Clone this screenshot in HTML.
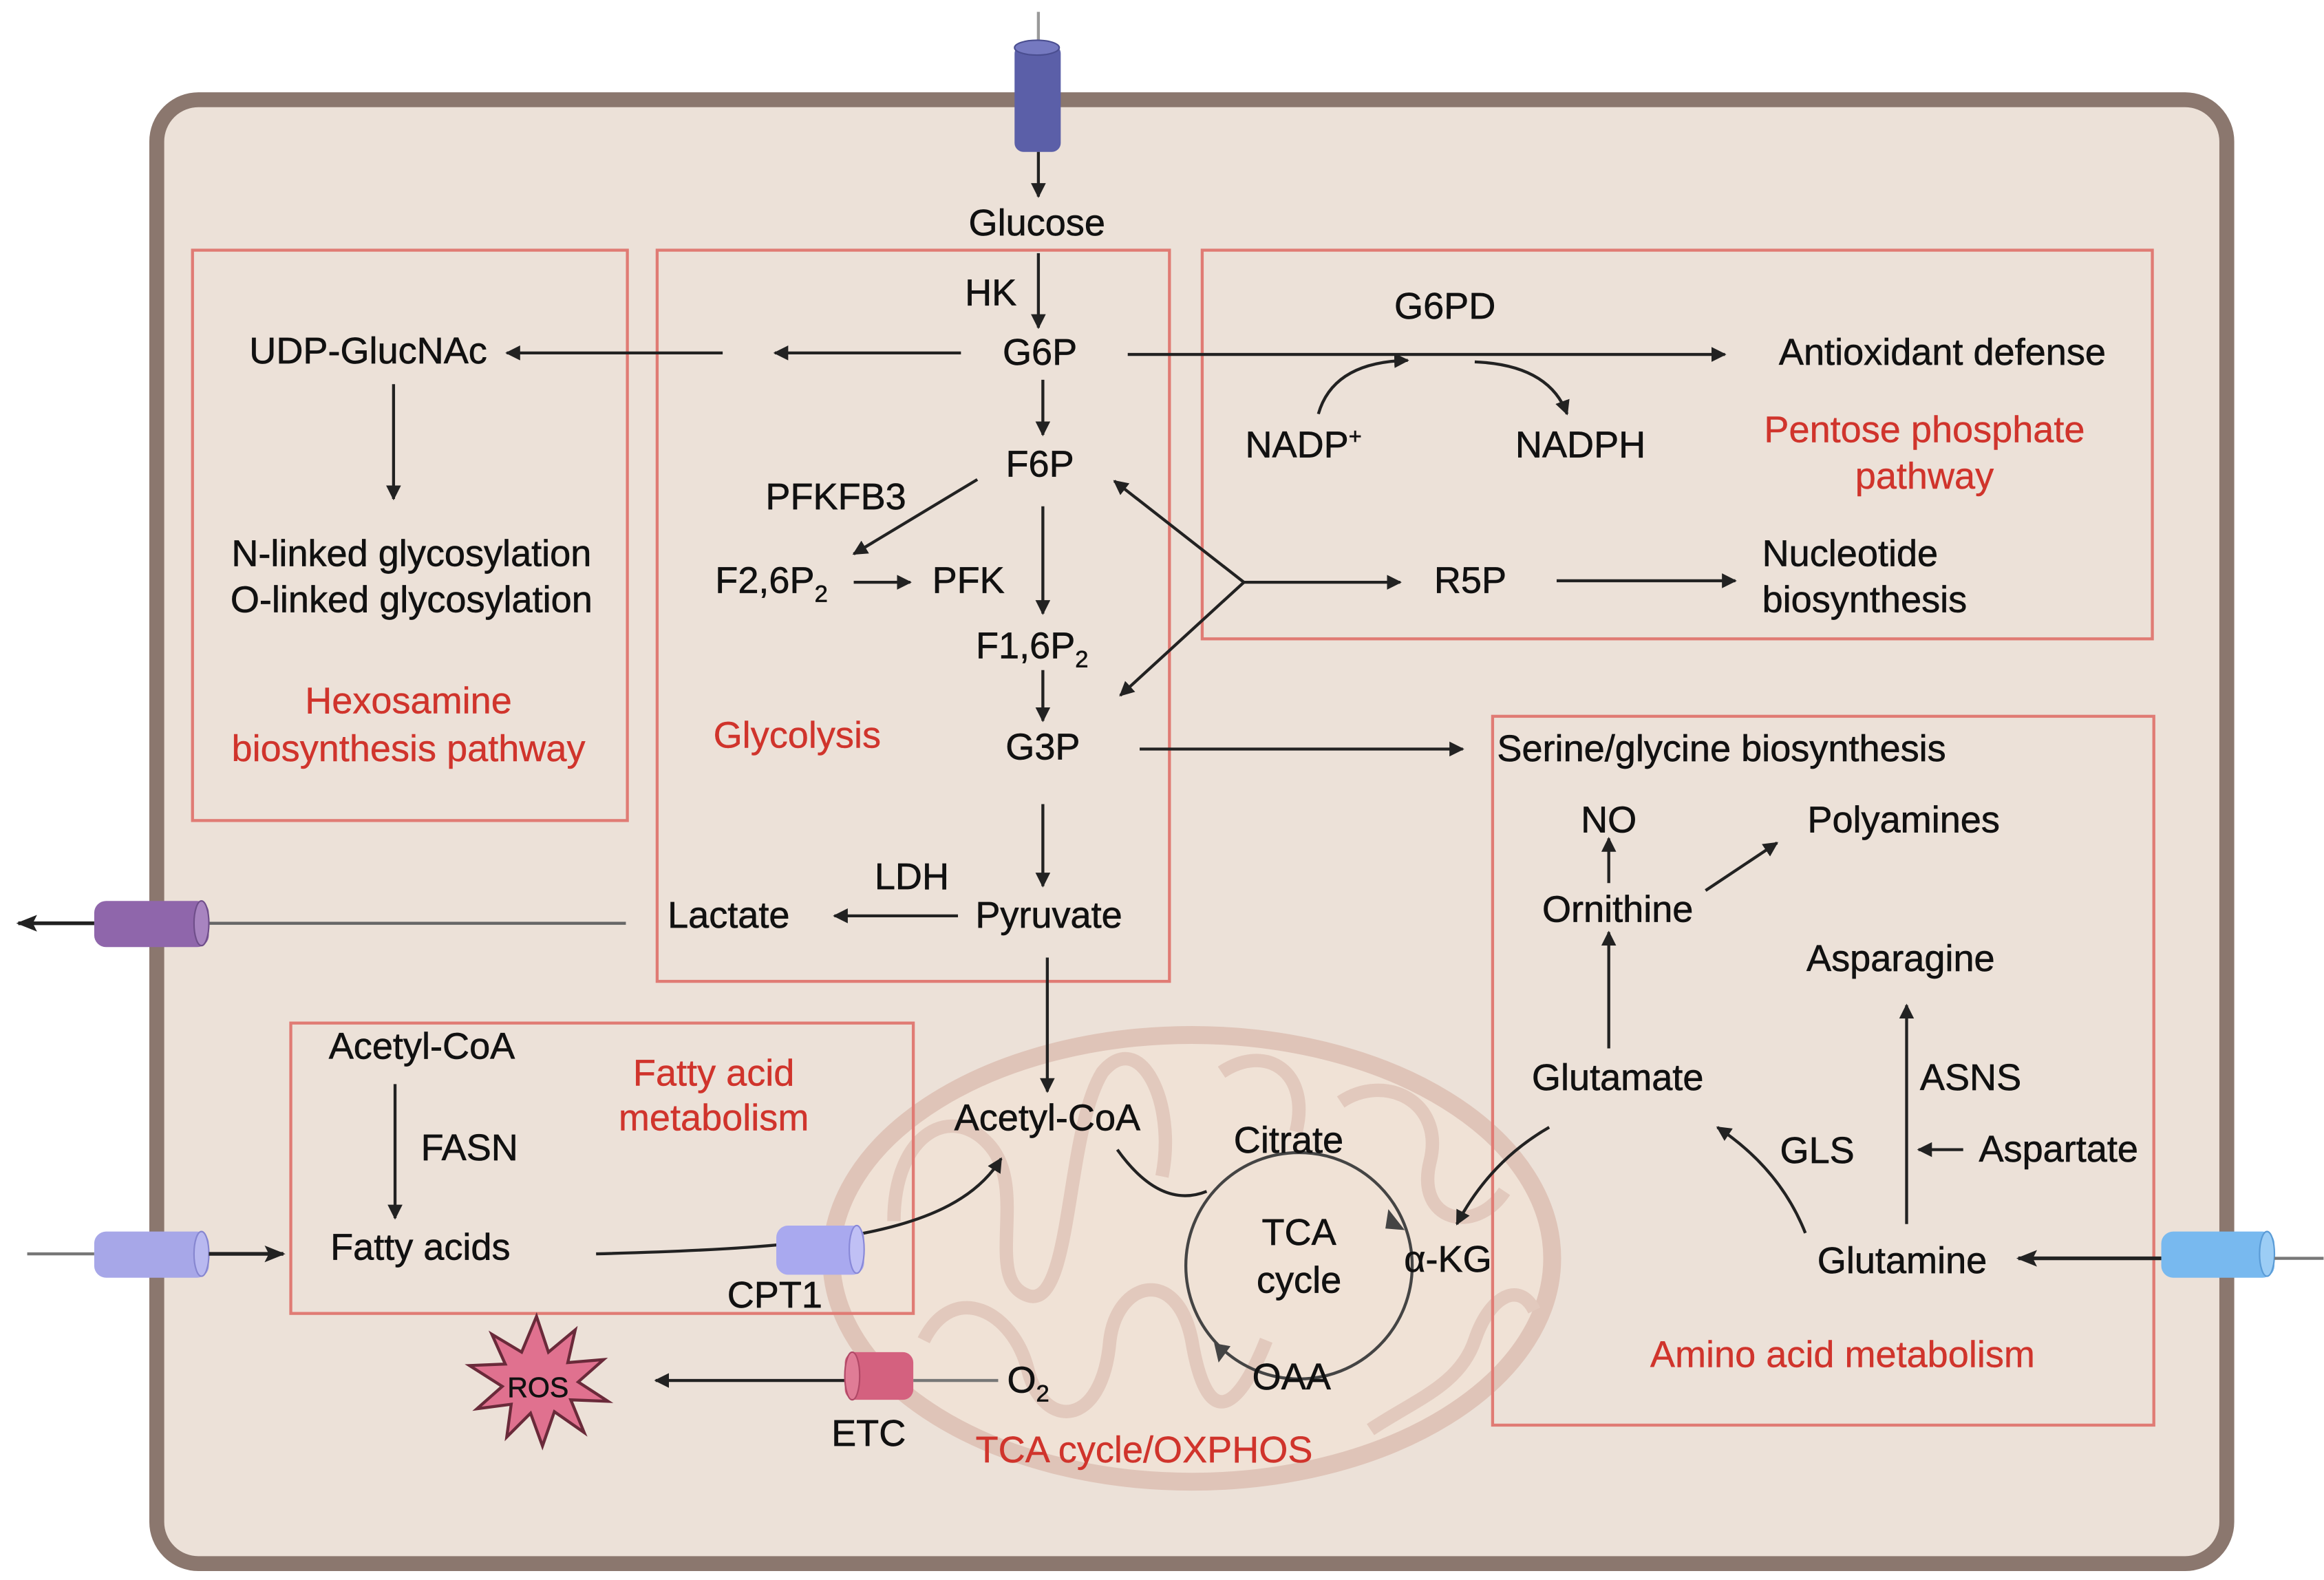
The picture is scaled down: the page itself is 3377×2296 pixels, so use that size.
<!DOCTYPE html>
<html><head><meta charset="utf-8"><style>
html,body{margin:0;padding:0;background:#fff;}
svg{display:block;}
text{font-family:"Liberation Sans",sans-serif;font-size:25px;fill:#111;stroke:#111;stroke-width:0.3px;}
.r{fill:#d0342c;stroke:#d0342c;stroke-width:0.2px;}
.c{text-anchor:middle;}
</style></head><body>
<svg width="3377" height="2296" viewBox="0 0 1560 1061" xmlns="http://www.w3.org/2000/svg">
<defs>
<marker id="a" viewBox="0 0 10 10" refX="9" refY="5" markerWidth="10" markerHeight="10" markerUnits="userSpaceOnUse" orient="auto"><path d="M0,0 L10,5 L0,10 z" fill="#222"/></marker>
<marker id="b" viewBox="0 0 10 10" refX="9" refY="5" markerWidth="14" markerHeight="14" markerUnits="userSpaceOnUse" orient="auto"><path d="M0,1 L10,5 L0,9 L2,5 z" fill="#222"/></marker>
</defs>
<rect width="1560" height="1061" fill="#fff"/>
<rect x="105" y="67" width="1390" height="983" rx="28" fill="#ece1d8" stroke="#8b776e" stroke-width="10"/>
<!-- mitochondrion -->
<ellipse cx="800" cy="845" rx="242" ry="150" fill="#f0e2d6" stroke="#dfc4b8" stroke-width="12"/>
<g fill="none" stroke="#e2c9bd" stroke-width="9">
<path d="M600,820 C600,760 640,740 665,770 C690,800 660,860 690,870 C720,880 715,760 740,720 C765,690 790,740 780,790"/>
<path d="M620,900 C640,860 680,880 690,920 C700,960 740,960 745,900 C750,860 790,850 800,900 C810,960 830,950 850,900"/>
<path d="M820,720 C850,700 880,720 870,760 M900,740 C930,720 970,740 960,780 C950,820 990,830 1010,800"/>
<path d="M920,960 C950,940 980,930 990,900 C1000,870 1020,860 1030,880"/>
</g>
<!-- boxes -->
<g fill="none" stroke="#e07b74" stroke-width="2">
<rect x="129" y="168" width="292" height="383"/>
<rect x="441" y="168" width="344" height="491"/>
<rect x="807" y="168" width="638" height="261"/>
<rect x="1002" y="481" width="444" height="476"/>
<rect x="195" y="687" width="418" height="195"/>
</g>
<!-- transporters -->
<line x1="697" y1="8" x2="697" y2="30" stroke="#999" stroke-width="2"/>
<rect x="681" y="30" width="31" height="72" rx="6" fill="#5b5fa8"/><ellipse cx="696" cy="32" rx="15" ry="5" fill="#7579c0" stroke="#4a4e90"/>
<line x1="140" y1="620" x2="420" y2="620" stroke="#666" stroke-width="2"/>
<rect x="63" y="605" width="77" height="31" rx="8" fill="#8f66ab"/><ellipse cx="135" cy="620" rx="5" ry="15" fill="#a884c0" stroke="#6f4e8a"/>
<line x1="63" y1="620" x2="12" y2="620" stroke="#222" stroke-width="2.5" marker-end="url(#b)"/>
<line x1="18" y1="842" x2="63" y2="842" stroke="#777" stroke-width="2"/>
<rect x="63" y="827" width="77" height="31" rx="8" fill="#a7a7e8"/><ellipse cx="135" cy="842" rx="5" ry="15" fill="#b9b9f0" stroke="#8686d0"/>
<line x1="140" y1="842" x2="190" y2="842" stroke="#222" stroke-width="2.5" marker-end="url(#b)"/>
<rect x="1451" y="827" width="76" height="31" rx="8" fill="#78b9ef"/><ellipse cx="1522" cy="842" rx="5" ry="15" fill="#9ccdf5" stroke="#5a9bd6"/>
<line x1="1527" y1="845" x2="1560" y2="845" stroke="#777" stroke-width="2"/>
<line x1="1451" y1="845" x2="1355" y2="845" stroke="#222" stroke-width="2.5" marker-end="url(#b)"/>
<!-- arrows -->
<g stroke="#222" stroke-width="2" fill="none" marker-end="url(#a)">
<line x1="697" y1="102" x2="697" y2="132"/>
<line x1="697" y1="170" x2="697" y2="220"/>
<line x1="645" y1="237" x2="520" y2="237"/>
<line x1="485" y1="237" x2="340" y2="237"/>
<line x1="264" y1="258" x2="264" y2="335"/>
<line x1="700" y1="255" x2="700" y2="292"/>
<line x1="757" y1="238" x2="1158" y2="238"/>
<path d="M885,278 Q895,243 945,242"/>
<path d="M990,243 Q1040,245 1052,278"/>
<line x1="656" y1="322" x2="573" y2="372"/>
<line x1="573" y1="391" x2="611" y2="391"/>
<line x1="700" y1="340" x2="700" y2="412"/>
<line x1="700" y1="450" x2="700" y2="484"/>
<path d="M835,391 L748,323"/>
<path d="M835,391 L752,467"/>
<path d="M835,391 L940,391"/>
<line x1="1045" y1="390" x2="1165" y2="390"/>
<line x1="765" y1="503" x2="982" y2="503"/>
<line x1="700" y1="540" x2="700" y2="595"/>
<line x1="643" y1="615" x2="560" y2="615"/>
<line x1="703" y1="643" x2="703" y2="733"/>
<line x1="265" y1="728" x2="265" y2="818"/>
<path d="M400,842 C550,838 640,830 672,778"/>
<path d="M1040,757 Q1000,780 978,822"/>
<line x1="1080" y1="704" x2="1080" y2="626"/>
<line x1="1080" y1="593" x2="1080" y2="563"/>
<line x1="1145" y1="598" x2="1193" y2="566"/>
<path d="M1212,828 Q1195,785 1153,757"/>
<line x1="1280" y1="822" x2="1280" y2="675"/>
<line x1="1318" y1="772" x2="1288" y2="772"/>
<line x1="567" y1="927" x2="440" y2="927"/>
</g>
<path d="M750,772 C770,800 790,808 810,800" stroke="#222" stroke-width="2" fill="none"/>
<line x1="613" y1="927" x2="670" y2="927" stroke="#777" stroke-width="2"/>
<!-- TCA circle -->
<circle cx="872" cy="850" r="76" fill="none" stroke="#444" stroke-width="2"/>
<path d="M932,812 L943,826 L930,825 z" fill="#444"/>
<path d="M815,902 L818,915 L826,904 z" fill="#444"/>
<!-- CPT1 & ETC cylinders -->
<rect x="521" y="823" width="59" height="33" rx="8" fill="#a9a9ef"/><ellipse cx="575" cy="839" rx="5" ry="16" fill="#c0c0f5" stroke="#8888d8"/>
<rect x="567" y="908" width="46" height="32" rx="7" fill="#d4617f"/><ellipse cx="572" cy="924" rx="5" ry="16" fill="#e07c96" stroke="#b04866"/>
<!-- ROS -->
<polygon points="360,884 368,908 386,893 381,915 405,913 388,928 408,941 383,940 392,962 372,948 364,971 356,949 340,965 343,943 320,946 337,931 315,917 339,916 330,896 350,908" fill="#e0718f" stroke="#6a2a3a" stroke-width="2"/>
<text x="361" y="938" class="c" style="font-size:19px">ROS</text>
<!-- texts -->
<text x="696" y="158" class="c">Glucose</text>
<text x="665" y="205" class="c">HK</text>
<text x="698" y="245" class="c">G6P</text>
<text x="698" y="320" class="c">F6P</text>
<text x="561" y="342" class="c">PFKFB3</text>
<text x="480" y="398">F2,6P<tspan dy="6" style="font-size:16px">2</tspan></text>
<text x="650" y="398" class="c">PFK</text>
<text x="655" y="442">F1,6P<tspan dy="6" style="font-size:16px">2</tspan></text>
<text x="700" y="510" class="c">G3P</text>
<text x="535" y="502" class="c r">Glycolysis</text>
<text x="612" y="597" class="c">LDH</text>
<text x="489" y="623" class="c">Lactate</text>
<text x="704" y="623" class="c">Pyruvate</text>
<text x="247" y="244" class="c">UDP-GlucNAc</text>
<text x="276" y="380" class="c">N-linked glycosylation</text>
<text x="276" y="411" class="c">O-linked glycosylation</text>
<text x="274" y="479" class="c r">Hexosamine</text>
<text x="274" y="511" class="c r">biosynthesis pathway</text>
<text x="970" y="214" class="c">G6PD</text>
<text x="1304" y="245" class="c">Antioxidant defense</text>
<text x="875" y="307" class="c">NADP<tspan dy="-9" style="font-size:15px">+</tspan></text>
<text x="1061" y="307" class="c">NADPH</text>
<text x="1292" y="297" class="c r">Pentose phosphate</text>
<text x="1292" y="328" class="c r">pathway</text>
<text x="987" y="398" class="c">R5P</text>
<text x="1183" y="380">Nucleotide</text>
<text x="1183" y="411">biosynthesis</text>
<text x="1005" y="511">Serine/glycine biosynthesis</text>
<text x="1080" y="559" class="c">NO</text>
<text x="1278" y="559" class="c">Polyamines</text>
<text x="1086" y="619" class="c">Ornithine</text>
<text x="1276" y="652" class="c">Asparagine</text>
<text x="1086" y="732" class="c">Glutamate</text>
<text x="1323" y="732" class="c">ASNS</text>
<text x="1220" y="781" class="c">GLS</text>
<text x="1382" y="780" class="c">Aspartate</text>
<text x="1277" y="855" class="c">Glutamine</text>
<text x="1237" y="918" class="c r">Amino acid metabolism</text>
<text x="283" y="711" class="c">Acetyl-CoA</text>
<text x="315" y="779" class="c">FASN</text>
<text x="282" y="846" class="c">Fatty acids</text>
<text x="479" y="729" class="c r">Fatty acid</text>
<text x="479" y="759" class="c r">metabolism</text>
<text x="520" y="878" class="c">CPT1</text>
<text x="703" y="759" class="c">Acetyl-CoA</text>
<text x="865" y="774" class="c">Citrate</text>
<text x="872" y="836" class="c">TCA</text>
<text x="872" y="868" class="c">cycle</text>
<text x="972" y="854" class="c">α-KG</text>
<text x="867" y="933" class="c">OAA</text>
<text x="676" y="935">O<tspan dy="6" style="font-size:16px">2</tspan></text>
<text x="583" y="971" class="c">ETC</text>
<text x="768" y="982" class="c r">TCA cycle/OXPHOS</text>
</svg>
</body></html>
